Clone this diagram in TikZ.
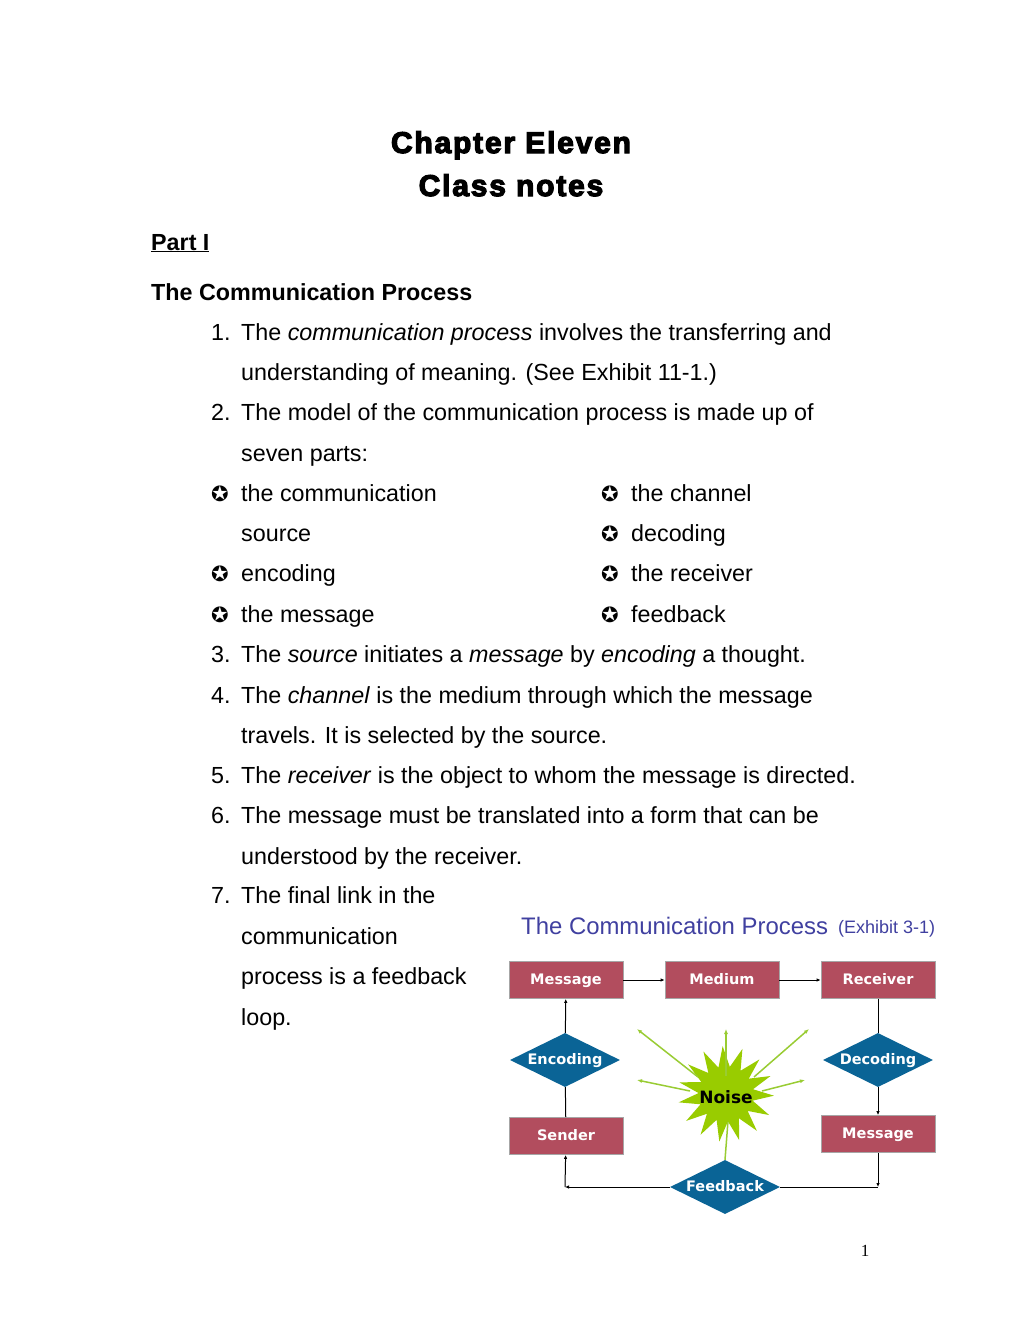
\documentclass[tikz,border=0pt]{standalone}
\usepackage{fontspec}
\setmainfont{Liberation Sans}
\newfontfamily\dvfont{DejaVu Sans}
\newfontfamily\serfont{Liberation Serif}
\newfontfamily\heavyfont[FakeBold=4,LetterSpace=6]{Liberation Sans Bold}
\usetikzlibrary{shapes.geometric,arrows.meta}
\definecolor{boxred}{HTML}{B24D5E}
\definecolor{diablue}{HTML}{0A6496}
\definecolor{noisegreen}{HTML}{99CC00}
\definecolor{arrgreen}{HTML}{99CC33}
\definecolor{titleblue}{HTML}{4040A0}
\tikzset{
  bodytxt/.style={anchor=base west, inner sep=0pt, font=\fontsize{23.3}{27}\selectfont},
  bullettxt/.style={anchor=base west, inner sep=0pt, font=\dvfont\fontsize{21}{24}\selectfont},
  redbox/.style={rectangle, fill=boxred, draw=black!35, line width=0.8pt, minimum width=114pt, minimum height=37pt, inner sep=0pt, text=white, text height=11pt, text depth=3pt, font=\dvfont\bfseries\fontsize{14.5}{16}\selectfont},
  bluedia/.style={diamond, aspect=2, fill=diablue, minimum width=110pt, minimum height=54pt, inner sep=0pt, text=white, text height=11pt, text depth=3pt, font=\dvfont\bfseries\fontsize{14.5}{16}\selectfont},
  conn/.style={draw=black, line width=1pt},
  arr/.style={conn, -{Latex[length=4pt,width=3.5pt]}},
  garr/.style={draw=arrgreen, line width=1.5pt, -{Latex[length=5pt,width=4pt]}},
}
\begin{document}
\begin{tikzpicture}[x=1pt,y=-1pt]
\useasboundingbox (0,0) rectangle (1020,1320);
\fill[white] (0,0) rectangle (1020,1320);

% Titles
\node[anchor=base, inner sep=0pt, font=\heavyfont\fontsize{30}{32}\selectfont] (t1) at (511,153) {Chapter Eleven};
\node[anchor=base, inner sep=0pt, font=\heavyfont\fontsize{30}{32}\selectfont] (t2) at (511,196) {Class notes};
\node[bodytxt, font=\bfseries\fontsize{23.3}{27}\selectfont] (part) at (151,250) {\underline{Part I}};
\node[bodytxt, font=\bfseries\fontsize{23.3}{27}\selectfont] (sec) at (151,300) {The Communication Process};

% Numbered items
\node[bodytxt] (n1) at (211,340) {1.};
\node[bodytxt] (l1) at (241,340) {The \textit{communication process} involves the transferring and};
\node[bodytxt] (l2) at (241,380) {understanding of meaning. (See Exhibit 11-1.)};
\node[bodytxt] (n2) at (211,420) {2.};
\node[bodytxt] (l3) at (241,420) {The model of the communication process is made up of};
\node[bodytxt] (l4) at (241,461) {seven parts:};

\node[bullettxt] (b1) at (211,501) {✪};
\node[bodytxt] (l5) at (241,501) {the communication};
\node[bodytxt] (l6) at (241,541) {source};
\node[bullettxt] (b2) at (211,581) {✪};
\node[bodytxt] (l7) at (241,581) {encoding};
\node[bullettxt] (b3) at (211,622) {✪};
\node[bodytxt] (l8) at (241,622) {the message};

\node[bullettxt] (b4) at (601,501) {✪};
\node[bodytxt] (r1) at (631,501) {the channel};
\node[bullettxt] (b5) at (601,541) {✪};
\node[bodytxt] (r2) at (631,541) {decoding};
\node[bullettxt] (b6) at (601,581) {✪};
\node[bodytxt] (r3) at (631,581) {the receiver};
\node[bullettxt] (b7) at (601,622) {✪};
\node[bodytxt] (r4) at (631,622) {feedback};

\node[bodytxt] (n3) at (211,662) {3.};
\node[bodytxt] (l9) at (241,662) {The \textit{source} initiates a \textit{message} by \textit{encoding} a thought.};
\node[bodytxt] (n4) at (211,703) {4.};
\node[bodytxt] (l10) at (241,703) {The \textit{channel} is the medium through which the message};
\node[bodytxt] (l11) at (241,743) {travels. It is selected by the source.};
\node[bodytxt] (n5) at (211,783) {5.};
\node[bodytxt] (l12) at (241,783) {The \textit{receiver} is the object to whom the message is directed.};
\node[bodytxt] (n6) at (211,823) {6.};
\node[bodytxt] (l13) at (241,823) {The message must be translated into a form that can be};
\node[bodytxt] (l14) at (241,864) {understood by the receiver.};
\node[bodytxt] (n7) at (211,903) {7.};
\node[bodytxt] (l15) at (241,903) {The final link in the};
\node[bodytxt] (l16) at (241,944) {communication};
\node[bodytxt] (l17) at (241,984) {process is a feedback};
\node[bodytxt] (l18) at (241,1025) {loop.};

% Page number
\node[anchor=base, inner sep=0pt, font=\serfont\fontsize{17}{20}\selectfont] (pg) at (865,1256) {1};

% Diagram title
\node[anchor=base west, inner sep=0pt, text=titleblue, font=\fontsize{23.9}{27}\selectfont] (dt) at (521,934) {The Communication Process};
\node[anchor=base west, inner sep=0pt, text=titleblue, font=\fontsize{18}{20}\selectfont] (dt2) at (838,933) {(Exhibit 3-1)};

% Diagram nodes
\node[redbox] (msg1) at (566,980) {Message};
\node[redbox] (med) at (722,980) {Medium};
\node[redbox] (rec) at (878,980) {Receiver};
\node[bluedia] (enc) at (565,1060) {Encoding};
\node[bluedia] (dec) at (878,1060) {Decoding};
\node[redbox] (snd) at (566,1136) {Sender};
\node[redbox] (msg2) at (878,1134) {Message};
\node[bluedia] (fb) at (725,1187) {Feedback};
\node[star, star points=15, star point ratio=1.75, minimum size=96pt, inner sep=0pt, fill=noisegreen, rotate=4] (noise) at (726,1094) {};
\node[inner sep=0pt, font=\dvfont\bfseries\fontsize{17}{19}\selectfont] (noiset) at (726,1097) {Noise};

\coordinate (c1) at (565,1187);
\coordinate (c2) at (878,1187);
\coordinate (g1) at (637,1029);
\coordinate (g2) at (726,1029);
\coordinate (g3) at (809,1029);
\coordinate (g4) at (637,1080);
\coordinate (g5) at (805,1080);

% Connectors
\draw[arr] (msg1) -- (med);
\draw[arr] (med) -- (rec);
\draw[arr] (enc) -- (msg1);
\draw[conn] (snd) -- (enc);
\draw[conn] (rec) -- (dec);
\draw[arr] (dec) -- (msg2);
\draw[arr] (msg2) -- (c2);
\draw[conn] (fb.east) -- (c2);
\draw[arr] (fb.west) -- (c1);
\draw[arr] (c1) -- (snd);

% Noise arrows
\draw[garr] (noise.center) ++(-28,-17) -- (g1);
\draw[garr] (noiset.north) ++(0,-14) -- (g2);
\draw[garr] (noise.center) ++(28,-17) -- (g3);
\draw[garr] (noise.center) ++(-36,-3) -- (g4);
\draw[garr] (noise.center) ++(36,-3) -- (g5);
\draw[draw=arrgreen, line width=1.5pt] (fb.north) -- (noise.south);
\end{tikzpicture}
\end{document}
